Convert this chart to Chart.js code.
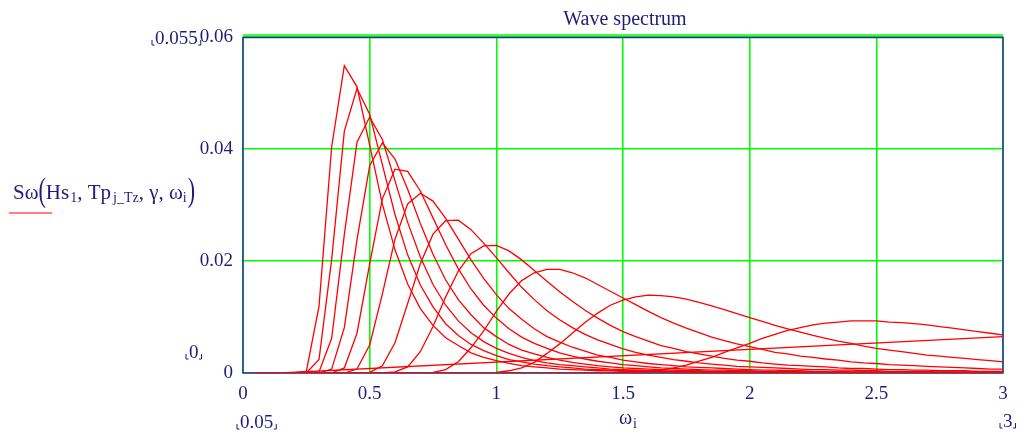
<!DOCTYPE html>
<html>
<head>
<meta charset="utf-8">
<script src="https://cdn.jsdelivr.net/npm/chart.js@4.4.1/dist/chart.umd.min.js"></script>
<style>
  html, body { margin: 0; padding: 0; background: #fff; }
  #wrap { width: 1018px; height: 436px; }
</style>
</head>
<body>
<div id="wrap"><canvas id="spectrum" width="1018" height="436"></canvas></div>
<script>
// frequencies omega_i (rad/s)
const omega = [
  0.05, 0.10, 0.15, 0.20, 0.25, 0.30, 0.35, 0.40, 0.45, 0.50,
  0.55, 0.60, 0.65, 0.70, 0.75, 0.80, 0.85, 0.90, 0.95, 1.00,
  1.05, 1.10, 1.15, 1.20, 1.25, 1.30, 1.35, 1.40, 1.45, 1.50,
  1.55, 1.60, 1.65, 1.70, 1.75, 1.80, 1.85, 1.90, 1.95, 2.00,
  2.05, 2.10, 2.15, 2.20, 2.25, 2.30, 2.35, 2.40, 2.45, 2.50,
  2.55, 2.60, 2.65, 2.70, 2.75, 2.80, 2.85, 2.90, 2.95, 3.00
];

// spectral density S(omega) for each Tp, longest period first
const sTp1 = [
  0, 0, 0, 0, .0003, .0119, .0404, .0549, .0511, .0407,
  .0302, .0220, .0159, .0115, .0085, .0063, .0049, .0036, .0028, .0022,
  .0017, .0013, .0011, .0009, .0007, .0006, .0005, .0004, .0004, .0003,
  .0003, .0002, .0002, .0002, .0001, .0001, .0001, .0001, .0001, .0001,
  .0001, .0001, 0, 0, 0, 0, 0, 0, 0, 0,
  0, 0, 0, 0, 0, 0, 0, 0, 0, 0
];
const sTp2 = [
  0, 0, 0, 0, 0, .0024, .0203, .0432, .0508, .0462,
  .0372, .0283, .0211, .0157, .0118, .0088, .0067, .0051, .0040, .0031,
  .0024, .0020, .0016, .0013, .0011, .0009, .0007, .0006, .0005, .0004,
  .0004, .0003, .0003, .0002, .0002, .0002, .0001, .0001, .0001, .0001,
  .0001, .0001, .0001, .0001, .0001, .0001, .0001, .0001, 0, 0,
  0, 0, 0, 0, 0, 0, 0, 0, 0, 0
];
const sTp3 = [
  0, 0, 0, 0, 0, .0002, .0062, .0247, .0412, .0457,
  .0417, .0343, .0269, .0207, .0158, .0121, .0093, .0072, .0056, .0044,
  .0035, .0028, .0022, .0018, .0015, .0013, .0011, .0009, .0007, .0006,
  .0005, .0004, .0004, .0003, .0003, .0003, .0002, .0002, .0002, .0001,
  .0001, .0001, .0001, .0001, .0001, .0001, .0001, .0001, .0001, .0001,
  .0001, .0001, 0, 0, 0, 0, 0, 0, 0, 0
];
const sTp4 = [
  0, 0, 0, 0, 0, 0, .0007, .0081, .0238, .0370,
  .0411, .0382, .0328, .0267, .0212, .0166, .0131, .0104, .0081, .0065,
  .0051, .0041, .0034, .0028, .0023, .0019, .0016, .0013, .0011, .0009,
  .0008, .0007, .0006, .0005, .0004, .0004, .0003, .0003, .0003, .0002,
  .0002, .0002, .0002, .0001, .0001, .0001, .0001, .0001, .0001, .0001,
  .0001, .0001, .0001, .0001, 0, 0, 0, 0, 0, 0
];
const sTp5 = [
  0, 0, 0, 0, 0, 0, 0, .0009, .0071, .0195,
  .0311, .0364, .0360, .0325, .0277, .0229, .0186, .0150, .0121, .0098,
  .0079, .0064, .0053, .0044, .0036, .0030, .0025, .0021, .0018, .0015,
  .0013, .0011, .0009, .0008, .0007, .0006, .0005, .0005, .0004, .0004,
  .0003, .0003, .0003, .0002, .0002, .0002, .0002, .0001, .0001, .0001,
  .0001, .0001, .0001, .0001, .0001, .0001, .0001, .0001, .0001, .0001
];
const sTp6 = [
  0, 0, 0, 0, 0, 0, 0, 0, .0007, .0050,
  .0141, .0239, .0302, .0321, .0307, .0276, .0239, .0202, .0169, .0140,
  .0115, .0096, .0079, .0065, .0055, .0046, .0039, .0032, .0028, .0023,
  .0020, .0017, .0015, .0013, .0011, .0010, .0009, .0008, .0007, .0006,
  .0005, .0005, .0004, .0004, .0003, .0003, .0003, .0002, .0002, .0002,
  .0002, .0002, .0001, .0001, .0001, .0001, .0001, .0001, .0001, .0001
];
const sTp7 = [
  0, 0, 0, 0, 0, 0, 0, 0, 0, .0001,
  .0013, .0054, .0124, .0195, .0248, .0272, .0273, .0256, .0232, .0206,
  .0179, .0153, .0131, .0111, .0095, .0081, .0069, .0059, .0051, .0043,
  .0037, .0032, .0028, .0024, .0021, .0018, .0016, .0014, .0012, .0011,
  .0010, .0009, .0008, .0007, .0006, .0006, .0005, .0005, .0004, .0004,
  .0003, .0003, .0003, .0003, .0002, .0002, .0002, .0002, .0002, .0002
];
const sTp8 = [
  0, 0, 0, 0, 0, 0, 0, 0, 0, 0,
  0, .0002, .0011, .0038, .0083, .0136, .0182, .0213, .0227, .0228,
  .0218, .0202, .0183, .0164, .0145, .0128, .0112, .0098, .0085, .0074,
  .0065, .0057, .0049, .0044, .0038, .0034, .0030, .0026, .0023, .0021,
  .0018, .0016, .0014, .0013, .0012, .0011, .0009, .0008, .0008, .0007,
  .0006, .0006, .0005, .0005, .0004, .0004, .0004, .0003, .0003, .0003
];
const sTp9 = [
  0, 0, 0, 0, 0, 0, 0, 0, 0, 0,
  0, 0, 0, 0, .0001, .0006, .0020, .0045, .0075, .0110,
  .0141, .0165, .0179, .0185, .0185, .0179, .0170, .0158, .0146, .0134,
  .0122, .0110, .0099, .0089, .0080, .0072, .0064, .0058, .0052, .0047,
  .0042, .0037, .0034, .0030, .0028, .0025, .0023, .0020, .0018, .0017,
  .0015, .0014, .0013, .0012, .0011, .0010, .0009, .0008, .0007, .0007
];
const sTp10 = [
  0, 0, 0, 0, 0, 0, 0, 0, 0, 0,
  0, 0, 0, 0, 0, 0, 0, 0, 0, .0001,
  .0004, .0009, .0019, .0035, .0052, .0071, .0090, .0107, .0121, .0130,
  .0136, .0139, .0138, .0136, .0132, .0126, .0120, .0113, .0106, .0099,
  .0092, .0085, .0079, .0073, .0067, .0062, .0057, .0053, .0048, .0044,
  .0041, .0038, .0035, .0032, .0030, .0028, .0026, .0024, .0022, .0020
];
const sTp11 = [
  0, 0, 0, 0, 0, 0, 0, 0, 0, 0,
  0, 0, 0, 0, 0, 0, 0, 0, 0, 0,
  0, 0, 0, 0, 0, 0, 0, 0, 0, .0001,
  .0001, .0003, .0005, .0009, .0014, .0021, .0028, .0037, .0045, .0053,
  .0062, .0069, .0076, .0081, .0086, .0089, .0091, .0093, .0093, .0093,
  .0091, .0090, .0088, .0086, .0083, .0080, .0077, .0074, .0071, .0068
];
// shortest period: only rises across the plotted range
const rampOmega = [0.05, 0.15, 3.00];
const rampS = [0, 0, 0.0065];

const xTicks = [0, 0.5, 1, 1.5, 2, 2.5, 3];
const yTicks = [0, 0.02, 0.04, 0.06];

const ink = '#1d1d7a';
const frame = '#2e2ea0';
const grid = '#00ff00';
const curve = '#ff0000';
const serif = "'Liberation Serif', 'DejaVu Serif', serif";

const spectra = [sTp1, sTp2, sTp3, sTp4, sTp5, sTp6, sTp7, sTp8, sTp9, sTp10, sTp11];

const lineStyle = {
  borderColor: curve,
  borderWidth: 1.3,
  pointRadius: 0,
  tension: 0,
  fill: false
};

const datasets = spectra.map(s => ({
  ...lineStyle,
  data: omega.map((w, i) => ({ x: w, y: s[i] }))
}));
datasets.push({
  ...lineStyle,
  data: rampOmega.map((w, i) => ({ x: w, y: rampS[i] }))
});

// little corner marks Mathcad puts round the axis limits
function limitLabel(ctx, text, x, base) {
  ctx.textAlign = 'left';
  ctx.fillText(text, x, base);
  const w = ctx.measureText(text).width;
  ctx.beginPath();
  ctx.moveTo(x - 3, base - 4); ctx.lineTo(x - 3, base + 1); ctx.lineTo(x - 0.5, base + 1);
  ctx.moveTo(x + w + 3, base - 4); ctx.lineTo(x + w + 3, base + 1); ctx.lineTo(x + w + 0.5, base + 1);
  ctx.stroke();
}

function tallParen(ctx, ch, x, base) {
  ctx.save();
  ctx.translate(x, base);
  ctx.scale(1, 1.55);
  ctx.font = `22px ${serif}`;
  ctx.textAlign = 'left';
  ctx.fillText(ch, 0, 0);
  const w = ctx.measureText(ch).width;
  ctx.restore();
  return w;
}

// plot-area edges are pinned, so no extra room for tick labels
function pinPadding(scale) {
  scale.paddingLeft = 0;
  scale.paddingRight = 0;
  scale.paddingTop = 0;
  scale.paddingBottom = 0;
}

const annotations = {
  id: 'annotations',
  beforeDatasetsDraw(chart) {
    const { ctx, chartArea: a } = chart;
    ctx.save();
    ctx.strokeStyle = grid;
    ctx.lineWidth = 1.6;
    ctx.beginPath();
    ctx.moveTo(a.left, a.top - 2);
    ctx.lineTo(a.right, a.top - 2);
    ctx.stroke();
    ctx.strokeStyle = frame;
    ctx.lineWidth = 1.5;
    ctx.strokeRect(a.left, a.top + 0.5, a.right - a.left, a.bottom - a.top - 0.5);
    ctx.restore();
  },
  afterDraw(chart) {
    const { ctx, chartArea: a } = chart;
    ctx.save();
    ctx.fillStyle = ink;
    ctx.strokeStyle = ink;
    ctx.lineWidth = 1;
    ctx.textBaseline = 'alphabetic';

    // title
    ctx.font = `20px ${serif}`;
    ctx.textAlign = 'center';
    ctx.fillText('Wave spectrum', (a.left + a.right) / 2 + 2, 25);

    // axis limits
    ctx.font = `19px ${serif}`;
    limitLabel(ctx, '0.055', 155, 44);
    limitLabel(ctx, '0', 189, 358);
    limitLabel(ctx, '0.05', 240, 428);
    limitLabel(ctx, '3', 1003, 427);

    // x axis title
    ctx.font = `20px ${serif}`;
    ctx.textAlign = 'left';
    ctx.fillText('ω', 619, 424);
    ctx.font = `14px ${serif}`;
    ctx.fillText('i', 633, 428);

    // y axis title: Sω(Hs1, Tp j_Tz, γ, ωi)
    const base = 199;
    const main = `21px ${serif}`;
    const sub = `14px ${serif}`;
    let x = 13;
    const put = (t, f, dy) => {
      ctx.font = f;
      ctx.textAlign = 'left';
      ctx.fillText(t, x, base + dy);
      x += ctx.measureText(t).width;
    };
    put('Sω', main, 0);
    x += tallParen(ctx, '(', x, base + 2);
    put('Hs', main, 0);
    x += 1;
    put('1', sub, 3);
    put(', Tp', main, 0);
    x += 2;
    put('j_Tz', sub, 3);
    put(', γ, ω', main, 0);
    put('i', sub, 3);
    tallParen(ctx, ')', x + 1, base + 2);

    // legend swatch under the y title
    ctx.strokeStyle = curve;
    ctx.lineWidth = 1.2;
    ctx.beginPath();
    ctx.moveTo(9, 213);
    ctx.lineTo(52, 213);
    ctx.stroke();
    ctx.restore();
  }
};

new Chart(document.getElementById('spectrum'), {
  type: 'line',
  data: { datasets },
  options: {
    responsive: false,
    animation: false,
    layout: { padding: { top: 37, right: 15, bottom: 0, left: 0 } },
    plugins: {
      legend: { display: false },
      title: { display: false },
      tooltip: { enabled: false }
    },
    scales: {
      x: {
        type: 'linear',
        min: xTicks[0],
        max: xTicks[xTicks.length - 1],
        afterFit: scale => { scale.height = 63; pinPadding(scale); },
        afterBuildTicks: scale => { scale.ticks = xTicks.map(v => ({ value: v })); },
        ticks: {
          color: ink,
          font: { family: serif, size: 19 },
          padding: 10,
          maxRotation: 0,
          autoSkip: false,
          callback: v => String(v)
        },
        grid: { color: grid, lineWidth: 1.6, drawTicks: false },
        border: { display: false }
      },
      y: {
        type: 'linear',
        min: yTicks[0],
        max: yTicks[yTicks.length - 1],
        afterFit: scale => { scale.width = 243; pinPadding(scale); },
        afterBuildTicks: scale => { scale.ticks = yTicks.map(v => ({ value: v })); },
        ticks: {
          color: ink,
          font: { family: serif, size: 19 },
          padding: 10,
          callback: v => String(v)
        },
        grid: { color: grid, lineWidth: 1.6, drawTicks: false },
        border: { display: false }
      }
    }
  },
  plugins: [annotations]
});
</script>
</body>
</html>
